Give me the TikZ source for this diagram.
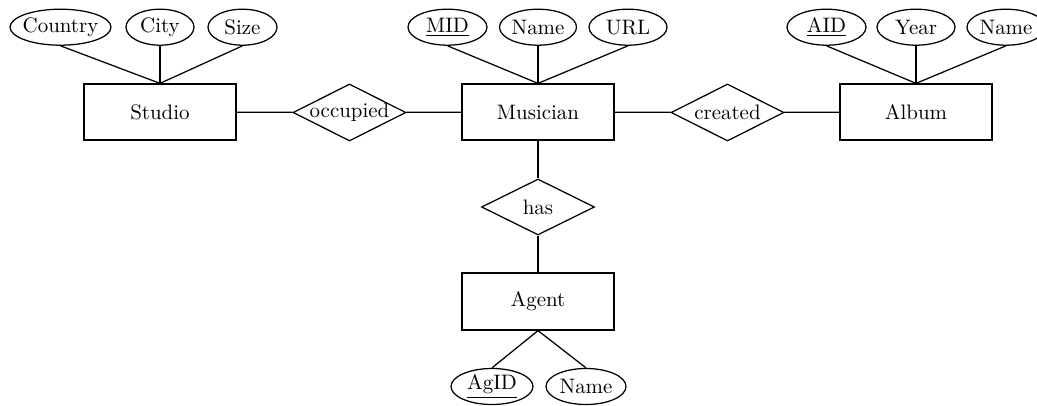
\documentclass[tikz,border=0pt]{standalone}
\usetikzlibrary{shapes.geometric}
\newcommand\pxu{0.478pt}
\begin{document}
\begin{tikzpicture}[x=0.478pt,y=-0.478pt,line width=0.6pt,
 entity/.style={draw, rectangle, inner sep=0pt, minimum width=152*\pxu, minimum height=56*\pxu},
 rel/.style={draw, diamond, shape aspect=2, inner ysep=0pt, inner xsep=-3pt, minimum width=113*\pxu, minimum height=57*\pxu},
 attr/.style={draw, ellipse, inner ysep=0pt, inner xsep=-3pt, minimum height=36*\pxu}]
\useasboundingbox (0,0) rectangle (1037,406);
% entities
\node[entity] (studio) at (160,112) {Studio};
\node[entity] (musician) at (538,112) {Musician};
\node[entity] (album) at (916,112) {Album};
\node[entity, minimum height=57*\pxu] (agent) at (538,301.5) {Agent};
% relationships
\node[rel] (occupied) at (349.5,112.5) {occupied};
\node[rel] (created) at (727.5,112.5) {created};
\node[rel, minimum height=56*\pxu] (has) at (538,207) {has};
% attributes
\node[attr, minimum width=101*\pxu] (country) at (60.5,27.2) {Country};
\node[attr, minimum width=68*\pxu] (city) at (160,27.2) {City};
\node[attr, minimum width=69*\pxu] (size) at (242.5,27.2) {Size};
\node[attr, minimum width=79*\pxu] (mid) at (447.5,27.2) {\underline{MID}};
\node[attr, minimum width=77*\pxu] (mname) at (538,27.2) {Name};
\node[attr, minimum width=78*\pxu] (url) at (628,27.2) {URL};
\node[attr, minimum width=79*\pxu] (aid) at (826.5,27.2) {\underline{AID}};
\node[attr, minimum width=78*\pxu] (year) at (916,27.2) {Year};
\node[attr, minimum width=78*\pxu] (aname) at (1006,27.2) {Name};
\node[attr, minimum width=82*\pxu] (agid) at (492,386.5) {\underline{AgID}};
\node[attr, minimum width=80*\pxu] (agname) at (586,386.5) {Name};
% connectors
\draw (studio) -- (occupied) -- (musician) -- (created) -- (album);
\draw (musician) -- (has) -- (agent);
\foreach \a in {country,city,size} \draw (\a.south) -- (studio.north);
\foreach \a in {mid,mname,url} \draw (\a.south) -- (musician.north);
\foreach \a in {aid,year,aname} \draw (\a.south) -- (album.north);
\foreach \a in {agid,agname} \draw (\a.north) -- (agent.south);
\end{tikzpicture}
\end{document}
